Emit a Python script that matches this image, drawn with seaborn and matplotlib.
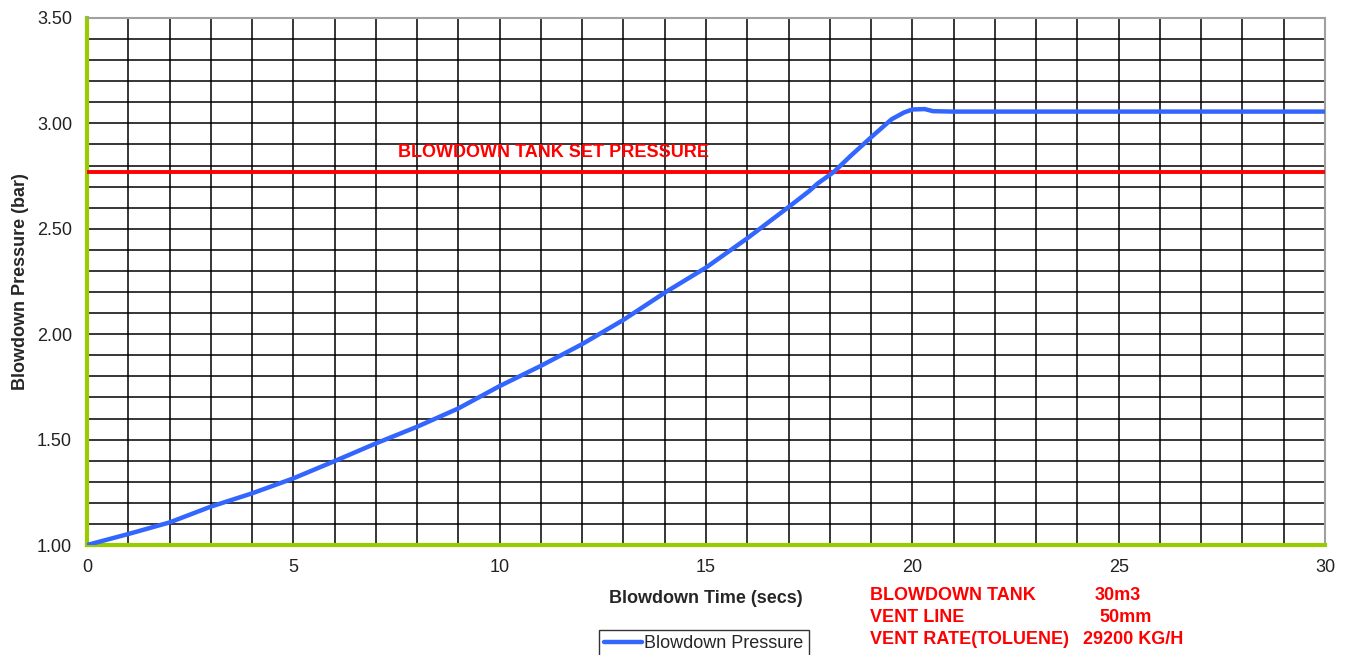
import numpy as np
import pandas as pd
import matplotlib
matplotlib.use("Agg")
import matplotlib.pyplot as plt
from matplotlib.ticker import MultipleLocator, FormatStrFormatter
import seaborn as sns

# values
time_s = [0, 1, 2, 3, 4, 5, 6, 7, 8, 9, 10, 11, 12, 13, 14, 15, 16, 17,
          17.5, 17.7, 18.1, 18.5, 19, 19.5, 19.8, 20, 20.3, 20.5, 21, 25, 30]
pressure_bar = [1.00, 1.052, 1.107, 1.182, 1.245, 1.316, 1.398, 1.482, 1.561, 1.648,
                1.754, 1.85, 1.953, 2.068, 2.197, 2.316, 2.455, 2.603,
                2.679, 2.714, 2.77, 2.845, 2.934, 3.02, 3.052, 3.066, 3.068, 3.058,
                3.056, 3.056, 3.056]
set_time = [0, 30]
set_pressure = [2.77, 2.77]

series_name = "Blowdown Pressure"
set_label = "BLOWDOWN TANK SET PRESSURE"
info_names = ["BLOWDOWN TANK", "VENT LINE", "VENT RATE(TOLUENE)"]
info_values = ["30m3", "50mm", "29200 KG/H"]

# pixel layout of the reference
W, H = 1347, 655
info_y = [596, 617.5, 639]
info_value_x = [1095, 1099, 1083]

font_size = 13
green = "#99CC00"
blue = "#3366FF"
red = "#FF0000"

sns.set_style("white")
plt.rcParams['font.family'] = ['Liberation Sans', 'DejaVu Sans']

fig = plt.figure(figsize=(W / 100, H / 100), dpi=100)
ax = fig.add_axes([87 / W, 1 - 545 / H, (1325 - 87) / W, (545 - 18) / H])

df = pd.DataFrame({"time": time_s, "pressure": pressure_bar})
sns.lineplot(data=df, x="time", y="pressure", ax=ax, color=blue, linewidth=3.2,
             label=series_name, zorder=4)
ax.plot(set_time, set_pressure, color=red, linewidth=2.8, zorder=3)
ax.text(7.54, 2.864, set_label, color=red, fontsize=13, fontweight="bold",
        va="center", ha="left", zorder=5)

ax.set_xlim(0, 30)
ax.set_ylim(1.0, 3.5)
ax.xaxis.set_major_locator(MultipleLocator(5))
ax.xaxis.set_minor_locator(MultipleLocator(1))
ax.yaxis.set_major_locator(MultipleLocator(0.5))
ax.yaxis.set_minor_locator(MultipleLocator(0.1))
ax.yaxis.set_major_formatter(FormatStrFormatter("%.2f"))
ax.grid(True, which="both", color="black", linewidth=1.1, zorder=1)
ax.set_axisbelow(True)

ax.tick_params(axis="both", which="major", direction="out", length=4.5, width=3,
               color=green, labelsize=font_size, labelcolor="#222222")
ax.tick_params(axis="x", which="major", pad=5.6)
ax.tick_params(axis="y", which="major", pad=6.3)
ax.tick_params(axis="both", which="minor", length=0)
for side in ["left", "bottom"]:
    ax.spines[side].set_color(green)
    ax.spines[side].set_linewidth(3)
for side in ["top", "right"]:
    ax.spines[side].set_color("#A0A0A0")
    ax.spines[side].set_linewidth(1.5)

ax.set_xlabel("Blowdown Time (secs)", fontsize=font_size, fontweight="bold", labelpad=9.8)
ax.set_ylabel("Blowdown Pressure (bar)", fontsize=font_size, fontweight="bold", labelpad=5.7)

ax.get_legend().remove()
handles, labels = ax.get_legend_handles_labels()
leg = fig.legend(handles[:1], labels[:1], loc="upper left",
                 bbox_to_anchor=(599 / W, 1 - 630 / H), fontsize=font_size,
                 frameon=True, fancybox=False, edgecolor="black",
                 handlelength=2.1, handletextpad=0.1, borderpad=0.3,
                 borderaxespad=0)
leg.get_frame().set_linewidth(1.0)

for name, value, yy, vx in zip(info_names, info_values, info_y, info_value_x):
    fig.text(870 / W, 1 - yy / H, name, color=red, fontsize=13,
             fontweight="bold", va="center", ha="left")
    fig.text(vx / W, 1 - yy / H, value, color=red, fontsize=13,
             fontweight="bold", va="center", ha="left")

fig.savefig("out.png", dpi=100)
